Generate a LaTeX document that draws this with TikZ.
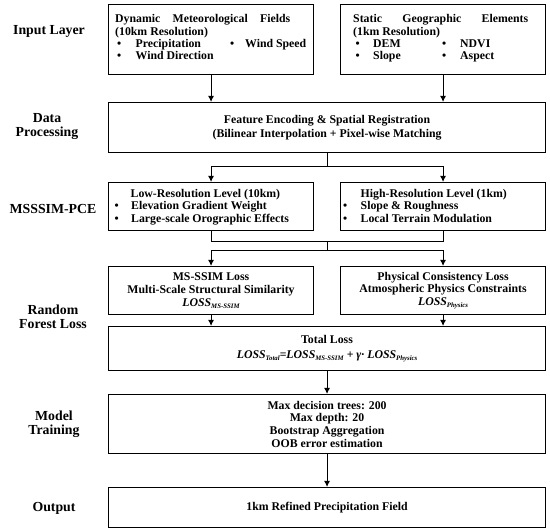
\documentclass[tikz,border=0pt]{standalone}
\usepackage{fontspec}
\setmainfont{Liberation Serif}
\usetikzlibrary{arrows.meta}
\newcommand{\LOSS}[1]{\textit{LOSS}\raisebox{-2pt}{\fontsize{6.8}{7}\selectfont\textit{#1}}}
\begin{document}
\begin{tikzpicture}[x=1pt,y=-1pt,
 box/.style={draw,line width=1.1pt,anchor=north west,inner sep=0pt},
 lbl/.style={font=\fontsize{13.8}{14}\selectfont\bfseries,align=center},
 txt/.style={font=\fontsize{11.8}{12.7}\selectfont\bfseries,align=center},
 ln/.style={font=\fontsize{11.8}{12.7}\selectfont\bfseries,anchor=base west,inner sep=0pt},
 arr/.style={line width=1.1pt,-{Latex[length=6pt,width=6pt]}},
 con/.style={line width=1.1pt}]
\useasboundingbox (0,0) rectangle (550,532);
% left labels
\node[lbl] (L1) at (49,31) {Input Layer};
\node[lbl] (L2) at (47,127) {Data\\Processing};
\node[lbl] (L3) at (53,209.5) {MSSSIM-PCE};
\node[lbl] (L4) at (53,317) {Random\\Forest Loss};
\node[lbl] (L5) at (54,424) {Model\\Training};
\node[lbl] (L6) at (54,508) {Output};
% boxes
\node[box,minimum width=205pt,minimum height=70pt] (in1) at (108,4) {};
\node[box,minimum width=205pt,minimum height=70pt] (in2) at (340,4) {};
\node[box,txt,font=\fontsize{11.8}{14}\selectfont\bfseries,minimum width=437pt,minimum height=50pt] (dp) at (108,102)
  {Feature Encoding \& Spatial Registration\\(Bilinear Interpolation + Pixel-wise Matching};
\node[box,minimum width=205pt,minimum height=48pt] (lr) at (108,182) {};
\node[box,minimum width=205pt,minimum height=48pt] (hr) at (340,182) {};
\node[box,txt,minimum width=205pt,minimum height=48pt] (ms) at (108,266)
  {MS-SSIM Loss\\Multi-Scale Structural Similarity\\\LOSS{MS-SSIM}};
\node[box,txt,minimum width=205pt,minimum height=48pt] (ph) at (340,266)
  {Physical Consistency Loss\\Atmospheric Physics Constraints\\\LOSS{Physics}};
\node[box,txt,font=\fontsize{11.8}{15}\selectfont\bfseries,minimum width=437pt,minimum height=44pt] (tl) at (108,326)
  {Total Loss\\\LOSS{Total}=\LOSS{MS-SSIM} + \textit{γ·} \LOSS{Physics}};
\node[box,txt,minimum width=437pt,minimum height=59pt] (mt) at (108,394)
  {Max decision trees: 200\\Max depth: 20\\Bootstrap Aggregation\\OOB error estimation};
\node[box,txt,minimum width=437pt,minimum height=40pt] (out) at (108,487)
  {1km Refined Precipitation Field};
% input box 1 text
\node[ln] (a1) at (115,22.5) {\makebox[175pt][s]{Dynamic Meteorological Fields}};
\node[ln] (a2) at (115,36) {(10km Resolution)};
\node[ln] (a3) at (117,48) {•};
\node[ln] (a4) at (135.5,48) {Precipitation};
\node[ln] (a5) at (230,48) {•};
\node[ln] (a6) at (245,48) {Wind Speed};
\node[ln] (a7) at (117,60) {•};
\node[ln] (a8) at (135.5,60) {Wind Direction};
% input box 2 text
\node[ln] (b1) at (353,22.5) {\makebox[175pt][s]{Static Geographic Elements}};
\node[ln] (b2) at (353,36) {(1km Resolution)};
\node[ln] (b3) at (355.5,48) {•};
\node[ln] (b4) at (373,48) {DEM};
\node[ln] (b5) at (442,48) {•};
\node[ln] (b6) at (460,48) {NDVI};
\node[ln] (b7) at (355.5,60) {•};
\node[ln] (b8) at (373,60) {Slope};
\node[ln] (b9) at (442,60) {•};
\node[ln] (b10) at (460,60) {Aspect};
% low-res text
\node[ln] (c1) at (130.5,197.5) {Low-Resolution Level (10km)};
\node[ln] (c2) at (114.3,209.8) {•};
\node[ln] (c3) at (131,209.8) {Elevation Gradient Weight};
\node[ln] (c4) at (114.3,222.5) {•};
\node[ln] (c5) at (131,222.5) {Large-scale Orographic Effects};
% high-res text
\node[ln] (d1) at (360.5,197.5) {High-Resolution Level (1km)};
\node[ln] (d2) at (343,209.8) {•};
\node[ln] (d3) at (360.5,209.8) {Slope \& Roughness};
\node[ln] (d4) at (343,222.5) {•};
\node[ln] (d5) at (360.5,222.5) {Local Terrain Modulation};
% connectors
\draw[arr] (in1.south) -- (in1.south |- dp.north);
\draw[arr] (in2.south) -- (in2.south |- dp.north);
\draw[con] (dp.south) -- ++(0,13) coordinate (j1);
\draw[arr] (j1) -| (lr.north);
\draw[arr] (j1) -| (hr.north);
\draw[con] (lr.south) -- ++(0,10) coordinate (m1) -| (hr.south);
\coordinate (m2) at (dp.south |- m1);
\draw[con] (m2) -- ++(0,9) coordinate (j2);
\draw[arr] (j2) -| (ms.north);
\draw[arr] (j2) -| (ph.north);
\draw[arr] (ms.south) -- (ms.south |- tl.north);
\draw[arr] (ph.south) -- (ph.south |- tl.north);
\draw[arr] (tl.south) -- (mt.north);
\draw[arr] (mt.south) -- (out.north);
\end{tikzpicture}
\end{document}
